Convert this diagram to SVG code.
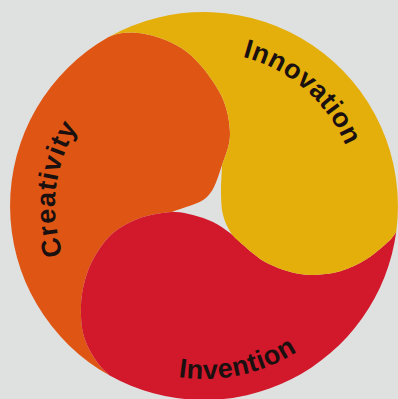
<svg xmlns="http://www.w3.org/2000/svg" width="398" height="399" viewBox="0 0 398 399">
<style>
.lbl{font-family:"Liberation Sans",Arial,sans-serif;font-weight:bold;font-size:27px;fill:#1a1010;letter-spacing:0.5px}
.o{fill:#df5614}.r{fill:#d2182b}.y{fill:#e4ae0b}
</style>
<defs>
<path id="pInno" d="M 242.6,56.9 A 154 154 0 0 1 352.8,245.9"/>
<path id="pCrea" d="M 63.1,254.5 A 149 149 0 0 1 153,66"/>
<path id="pInve" d="M 178.4,377.1 A 173 173 0 0 0 353.8,292.5"/>
</defs>
<rect width="398" height="399" fill="#dfe0e0"/>
<g id="creativity">
<path class="o" d="M 108.6,37.1 A 194 194 0 0 0 109.7,375.5
C 101,368 97.5,363.1 93,356 C 88.6,348.9 85,341.5 83,333 C 81,324.5 80.7,313.8 81,305 C 81.3,296.2 82.7,288.2 85,280 C 87.3,271.8 90.3,263.8 95,256 C 99.7,248.2 105.5,239.3 113,233 C 120.5,226.7 130.2,221.5 140,218 C 149.8,214.5 163.2,212.5 172,212
C 183.7,207 198.7,204.8 207,197 C 215.3,189.2 218.2,175.7 222,165 C 225.8,154.3 230.3,145 230,133 C 229.7,121 227.2,106.5 220,93 C 212.8,79.5 199.5,61.8 187,52 C 174.5,42.2 158.1,36.5 145,34 C 131.9,31.5 119,32 108.6,37.1 Z"/>
<text class="lbl" style="letter-spacing:1px"><textPath href="#pCrea">Creativity</textPath></text>
</g>
<g id="invention">
<path class="r" d="M 109.7,375.5 A 194 194 0 0 0 396.3,231.3
C 393.5,238 386.1,243.7 380,249 C 373.95,254.3 367.8,259 360,263 C 352.2,267 343,271.2 333,273 C 323,274.8 311,275.7 300,274 C 289,272.3 276.7,268 267,263 C 257.3,258 248,249 242,244
C 238,240.3 234.8,236.7 230,233 C 225.2,229.3 219.2,225 213,222 C 206.8,219 199.8,216.7 193,215 C 186.2,213.3 180.8,211.5 172,212 C 163.2,212.5 149.8,214.5 140,218 C 130.2,221.5 120.5,226.7 113,233 C 105.5,239.3 99.7,248.2 95,256 C 90.3,263.8 87.3,271.8 85,280 C 82.7,288.2 81.3,296.2 81,305 C 80.7,313.8 81,324.5 83,333 C 85,341.5 88.6,348.9 93,356 C 97.5,363.1 101,368 109.7,375.5 Z"/>
<text class="lbl"><textPath href="#pInve">Invention</textPath></text>
</g>
<g id="innovation">
<path class="y" d="M 396.3,231.3 A 194 194 0 0 0 108.6,37.1
C 119,32 131.9,31.5 145,34 C 158.1,36.5 174.5,42.2 187,52 C 199.5,61.8 212.8,79.5 220,93 C 227.2,106.5 229.7,121 230,133 C 230.3,145 225.8,154.3 222,165
C 221.7,174.3 220.8,184.7 221,193 C 221.2,201.3 221.3,208.3 223,215 C 224.7,221.7 227.8,228.2 231,233 C 234.2,237.8 236,239 242,244 C 248,249 257.3,258 267,263 C 276.7,268 289,272.3 300,274 C 311,275.7 323,274.8 333,273 C 343,271.2 352.2,267 360,263 C 367.8,259 373.95,254.3 380,249 C 386.1,243.7 393.5,238 396.3,231.3 Z"/>
<text class="lbl"><textPath href="#pInno">Innovation</textPath></text>
</g>
</svg>
